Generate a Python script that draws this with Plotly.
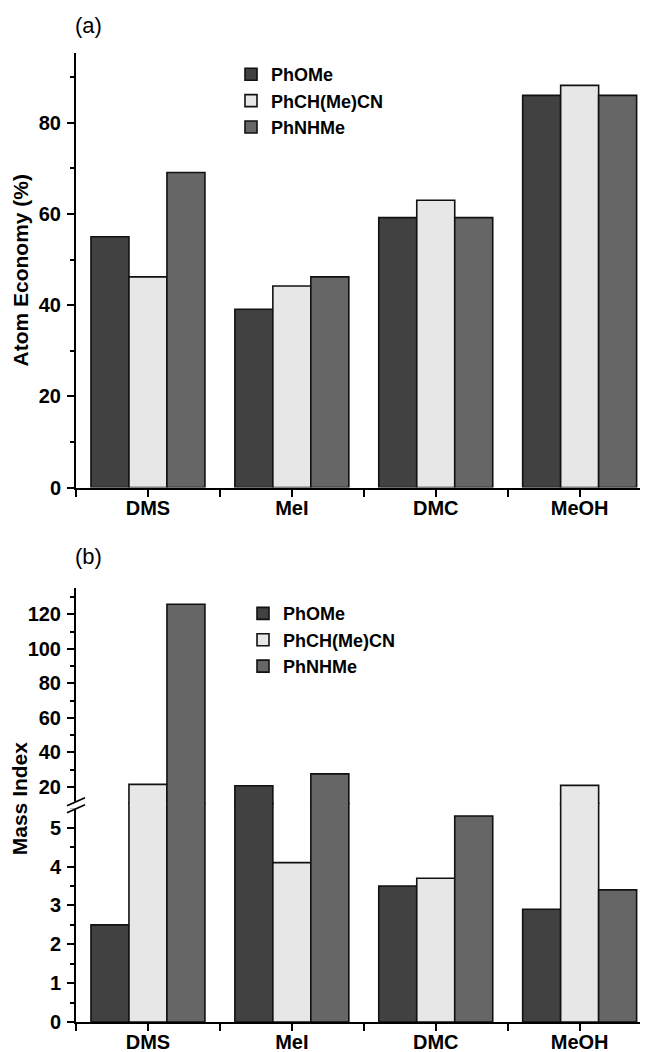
import plotly.graph_objects as go

# ---------------- data ----------------
categories = ["DMS", "MeI", "DMC", "MeOH"]
series_names = ["PhOMe", "PhCH(Me)CN", "PhNHMe"]

# (a) Atom Economy (%)
ae_phome = [55.0, 39.1, 59.2, 86.0]
ae_phchmecn = [46.2, 44.2, 63.0, 88.2]
ae_phnhme = [69.1, 46.2, 59.2, 86.0]

# (b) Mass Index
mi_phome = [2.5, 20.7, 3.5, 2.9]
mi_phchmecn = [21.5, 4.1, 3.7, 20.9]
mi_phnhme = [125.9, 27.6, 5.3, 3.4]

y_a_ticks = [0, 20, 40, 60, 80]
y_b_low_ticks = [0, 1, 2, 3, 4, 5]
y_b_up_ticks = [20, 40, 60, 80, 100, 120]

# ---------------- styling / layout ----------------
colors = ["#414141", "#e7e7e7", "#666666"]
OFF = 8  # page body margin of the html page
W, H = 648 - OFF, 1052 - OFF
L, R, T = 76 - OFF, 0, 53 - OFF
PLOT_BOTTOM = 1021.7  # page pixel of the lowest plot edge
B = H - (PLOT_BOTTOM - OFF)
plot_w = W - L - R
plot_h = H - T - B


def px(p):
    """page pixel x -> paper x"""
    return (p - OFF - L) / plot_w


def py(p):
    """page pixel y -> paper y"""
    return (H - B - (p - OFF)) / plot_h


FONT = "Liberation Sans, Arial, Helvetica, sans-serif"
x_pos = list(range(len(categories)))

fig = go.Figure()

a_vals = [ae_phome, ae_phchmecn, ae_phnhme]
b_vals = [mi_phome, mi_phchmecn, mi_phnhme]
bar_line = dict(color="#111111", width=1.6)

for name, vals, col in zip(series_names, a_vals, colors):
    fig.add_trace(go.Bar(
        x=x_pos, y=vals, name=name, marker=dict(color=col, line=bar_line),
        xaxis="x", yaxis="y", legend="legend", showlegend=True))

for name, vals, col in zip(series_names, b_vals, colors):
    fig.add_trace(go.Bar(
        x=x_pos, y=vals, name=name, marker=dict(color=col, line=bar_line),
        xaxis="x2", yaxis="y2", legend="legend2", showlegend=True))
    fig.add_trace(go.Bar(
        x=x_pos, y=vals, name=name, marker=dict(color=col, line=bar_line),
        xaxis="x3", yaxis="y3", showlegend=False))

tickfont = dict(family=FONT, size=20, color="black", weight="bold")
axis_common = dict(showline=True, linecolor="black", linewidth=2, ticks="outside", ticklen=7,
                   tickwidth=2, tickcolor="black", showgrid=False, zeroline=False,
                   tickfont=tickfont, ticklabelstandoff=2)
x_range = [-0.5, 3.475]
x_common = dict(axis_common, range=x_range, tickmode="array", tickvals=x_pos, ticktext=categories,
                ticklabelstandoff=-6,
                minor=dict(ticks="outside", tick0=0.5, dtick=1, ticklen=7, tickwidth=2, tickcolor="black"))

# panel (b) broken axis: lower part 0..~5.6, upper part ~10..135
lo_px_per_unit = 38.85
up_px_per_unit = 1.724
lo_top_px = 802.5
up_bot_px = 804.0
lo_range = [0, (PLOT_BOTTOM - lo_top_px) / lo_px_per_unit]
up_range = [20 - (up_bot_px - 786.7) / up_px_per_unit, 120 + (614.3 - 588) / up_px_per_unit]

y_a_dom = [py(487.4), 1]
y_b_low_dom = [0, py(lo_top_px)]
y_b_up_dom = [py(up_bot_px), py(588)]

fig.update_layout(
    width=W, height=H,
    margin=dict(l=L, r=R, t=T, b=B, autoexpand=False),
    paper_bgcolor="white", plot_bgcolor="rgba(0,0,0,0)",
    barmode="group", bargap=0.208, bargroupgap=0,
    font=dict(family=FONT, color="black"),
    xaxis=dict(x_common, anchor="y", domain=[0, 1]),
    yaxis=dict(axis_common, anchor="x", domain=y_a_dom, range=[0, 95.3], tickmode="array",
               tickvals=y_a_ticks,
               minor=dict(ticks="outside", tick0=0, dtick=10, ticklen=4, tickwidth=1.5, tickcolor="black"),
               title=dict(text="Atom Economy (%)", font=dict(family=FONT, size=21, weight="bold"),
                          standoff=4)),
    xaxis2=dict(x_common, anchor="y2", domain=[0, 1]),
    yaxis2=dict(axis_common, anchor="x2", domain=y_b_low_dom, range=lo_range, tickmode="array",
                tickvals=y_b_low_ticks,
                minor=dict(ticks="outside", tick0=0, dtick=0.5, ticklen=4, tickwidth=1.5, tickcolor="black")),
    xaxis3=dict(anchor="y3", domain=[0, 1], range=x_range, visible=False),
    yaxis3=dict(axis_common, anchor="x3", domain=y_b_up_dom, range=up_range, tickmode="array",
                tickvals=y_b_up_ticks,
                minor=dict(ticks="outside", tick0=0, dtick=10, ticklen=4, tickwidth=1.5, tickcolor="black")),
    legend=dict(x=px(231), y=py(56), xanchor="left", yanchor="top", bgcolor="rgba(0,0,0,0)",
                font=dict(family=FONT, size=18, weight="bold", color="black"), itemwidth=30,
                tracegroupgap=0),
    legend2=dict(x=px(243), y=py(595), xanchor="left", yanchor="top", bgcolor="rgba(0,0,0,0)",
                 font=dict(family=FONT, size=18, weight="bold", color="black"), itemwidth=30,
                 tracegroupgap=0),
)

# axis break marks on the (b) y axis
fig.add_shape(type="rect", xref="paper", yref="paper", x0=px(70), x1=px(81), y0=py(808.5), y1=py(801.5),
              fillcolor="white", line=dict(width=0), layer="above")
for y_off in (0, 7):
    fig.add_shape(type="line", xref="paper", yref="paper", x0=px(67), x1=px(85),
                  y0=py(805.5 + y_off), y1=py(797.5 + y_off), line=dict(color="black", width=1.8),
                  layer="above")

# panel labels and (b) y title
fig.add_annotation(text="(a)", xref="paper", yref="paper", x=px(73), y=py(26), xanchor="left",
                   yanchor="middle", showarrow=False, font=dict(family=FONT, size=22, color="black"))
fig.add_annotation(text="(b)", xref="paper", yref="paper", x=px(73), y=py(556), xanchor="left",
                   yanchor="middle", showarrow=False, font=dict(family=FONT, size=22, color="black"))
fig.add_annotation(text="Mass Index", xref="paper", yref="paper", x=px(19), y=py(798), textangle=-90,
                   xanchor="center", yanchor="middle", showarrow=False,
                   font=dict(family=FONT, size=21, weight="bold", color="black"))

fig.write_html("out.html")
